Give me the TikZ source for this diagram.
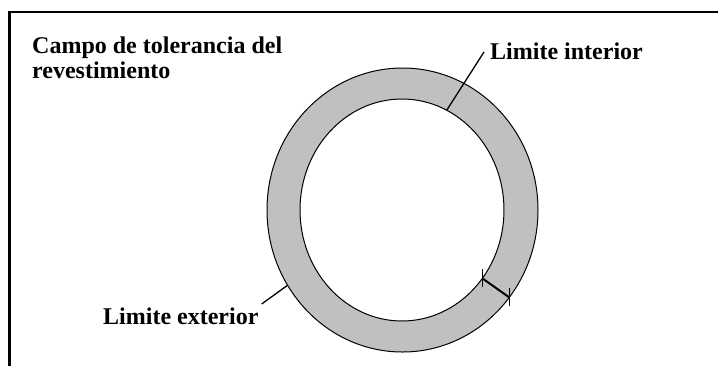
\documentclass[tikz,border=0pt]{standalone}
\usepackage{fontspec}
\setmainfont{Liberation Serif}
\usetikzlibrary{calc}
\definecolor{ringgray}{HTML}{C0C0C0}
\tikzset{
  lbl/.style={inner sep=0pt, anchor=base west, font=\bfseries\fontsize{24}{25}\selectfont, align=left},
  leader/.style={draw=black, line width=1.3pt},
  ringline/.style={draw=black, line width=1pt},
  dimline/.style={draw=black, line width=2pt},
  tickline/.style={draw=black, line width=1pt},
  frameline/.style={draw=black, line width=2.4pt}
}
\begin{document}
\begin{tikzpicture}[x=1pt,y=-1pt]
\useasboundingbox (0,0) rectangle (718,365);
% frame
\draw[frameline] (9.5,368) -- (9.5,12) -- (720,12);
% ring
\path[fill=ringgray, even odd rule, ringline]
  (402.5,210) ellipse [x radius=135.5, y radius=142]
  (402,210) ellipse [x radius=102, y radius=111];
% points on the ring
\coordinate (inA) at ($(402,210)+(-64:102 and 111)$);
\coordinate (outA) at ($(402.5,210)+(148:135.5 and 142)$);
\coordinate (dimI) at ($(402,210)+(38:102 and 111)$);
\coordinate (dimO) at ($(402.5,210)+(38:135.5 and 142)$);
% labels
\node[lbl] (campo) at (32,78) {Campo de tolerancia del\\revestimiento};
\node[lbl] (inter) at (490,59) {Limite interior};
\node[lbl] (exter) at (103,324) {Limite exterior};
% leaders
\coordinate (interEnd) at ($(inter.base west)+(-6,-7)$);
\coordinate (exterEnd) at ($(exter.base east)+(3,-20)$);
\draw[leader] (interEnd) -- (inA);
\draw[leader] (exterEnd) -- (outA);
% thickness dimension
\draw[dimline] (dimI) -- (dimO);
\draw[tickline] ($(dimI)+(0,-9)$) -- ($(dimI)+(0,9)$);
\draw[tickline] ($(dimO)+(0,-9)$) -- ($(dimO)+(0,9)$);
\end{tikzpicture}
\end{document}
